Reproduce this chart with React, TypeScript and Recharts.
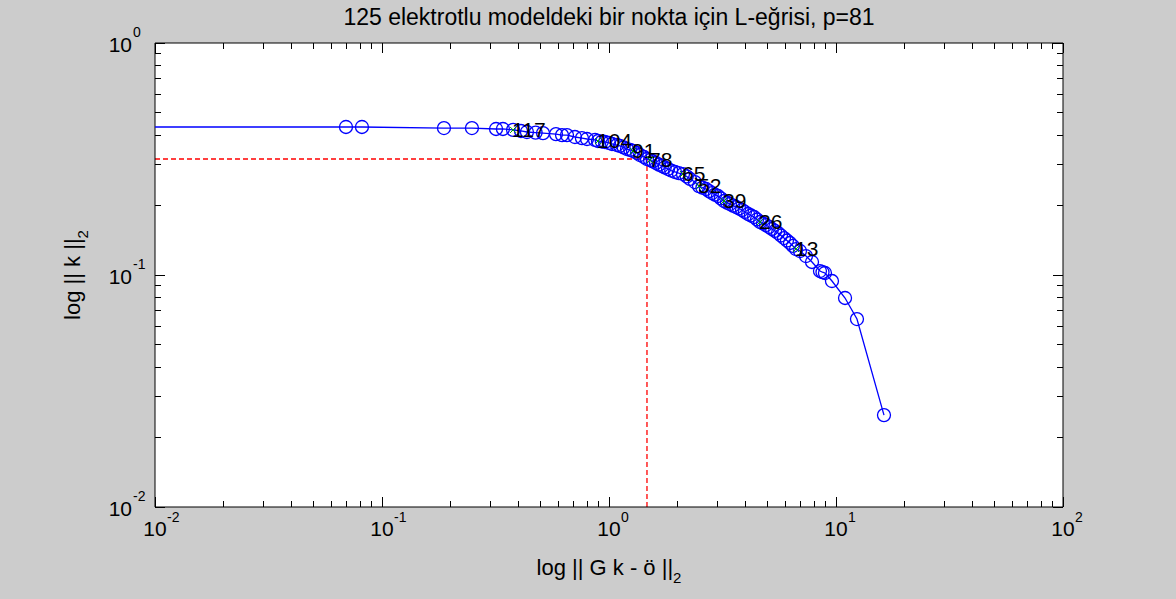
import { ReferenceLine, Scatter, ScatterChart, XAxis, YAxis } from "recharts"

// L-curve for the point p=81: residual norm ||G k - ö||_2 vs solution norm ||k||_2,
// ordered from p=125 (left) down to p=1 (bottom right)
const residualNorm = [
  0.003, 0.0694, 0.0816, 0.1875, 0.249, 0.318, 0.341, 0.378, 0.4095, 0.435, 0.475, 0.512, 0.584, 0.621,
  0.653, 0.708, 0.76, 0.8, 0.868, 0.894, 0.93, 0.96, 1.0, 1.031, 1.084, 1.118, 1.16, 1.2, 1.24, 1.276,
  1.328, 1.369, 1.426, 1.47, 1.516, 1.56, 1.611, 1.66, 1.712, 1.76, 1.82, 1.88, 1.953, 2.03, 2.118,
  2.2, 2.275, 2.39, 2.492, 2.58, 2.675, 2.76, 2.843, 2.93, 3.02, 3.11, 3.21, 3.31, 3.41, 3.52, 3.63,
  3.74, 3.855, 3.97, 4.1, 4.22, 4.353, 4.49, 4.625, 4.77, 4.916, 5.07, 5.224, 5.39, 5.553, 5.72, 5.9,
  6.08, 6.27, 6.46, 6.665, 6.94, 7.375, 7.84, 8.5, 8.72, 8.94, 9.6, 10.96, 12.37, 16.27,
]
const solutionNorm = [
  0.4345, 0.4345, 0.4345, 0.43, 0.43, 0.426, 0.426, 0.422, 0.4176, 0.4134, 0.411, 0.409, 0.405, 0.401,
  0.401, 0.3934, 0.389, 0.3857, 0.382, 0.378, 0.376, 0.3744, 0.371, 0.367, 0.3633, 0.36, 0.355, 0.349,
  0.346, 0.3423, 0.3356, 0.329, 0.3225, 0.3162, 0.3131, 0.309, 0.304, 0.299, 0.295, 0.291, 0.2864,
  0.282, 0.278, 0.275, 0.2724, 0.266, 0.2594, 0.2516, 0.2417, 0.238, 0.2348, 0.23, 0.2256, 0.222,
  0.219, 0.214, 0.2084, 0.205, 0.2023, 0.199, 0.1964, 0.1935, 0.1906, 0.187, 0.1832, 0.1805, 0.1778,
  0.1735, 0.1692, 0.1667, 0.1642, 0.161, 0.1579, 0.1548, 0.1517, 0.148, 0.1443, 0.1408, 0.1374,
  0.1334, 0.1294, 0.1269, 0.1207, 0.1138, 0.104, 0.1028, 0.102, 0.0942, 0.0796, 0.0646, 0.0249,
]

// every 13th point is marked and numbered
const markedIndex = ["117", "104", "91", "78", "65", "52", "39", "26", "13"]
const markedResidual = [0.378, 0.894, 1.276, 1.516, 2.118, 2.492, 3.21, 4.625, 6.665]
const markedSolution = [0.422, 0.378, 0.3423, 0.3131, 0.2724, 0.2417, 0.2084, 0.1692, 0.1294]

// chosen corner, p=81
const cornerResidual = 1.47
const cornerSolution = 0.3162

const xDecades = [0.01, 0.1, 1, 10, 100]
const yDecades = [0.01, 0.1, 1]
const minorSteps = [2, 3, 4, 5, 6, 7, 8, 9]

const W = 1176
const H = 599
const PLOT = { left: 155, top: 43, width: 908, height: 464 }
const FONT = '"Liberation Sans", Arial, Helvetica, sans-serif'
const BLUE = "#0000ff"
const RED = "#ff0000"

const withMinors = (decades: number[]) => {
  const out: number[] = []
  decades.forEach((d, i) => {
    out.push(d)
    if (i < decades.length - 1) minorSteps.forEach((m) => out.push(+(d * m).toPrecision(6)))
  })
  return out
}
const xTicks = withMinors(xDecades)
const yTicks = withMinors(yDecades)

const isDecade = (v: number) => Math.abs(Math.log10(v) - Math.round(Math.log10(v))) < 1e-6
const exponent = (v: number) => String(Math.round(Math.log10(v)))

const curve = residualNorm.map((r, i) => ({ r, s: solutionNorm[i] }))
const marked = markedIndex.map((name, i) => ({ r: markedResidual[i], s: markedSolution[i], name }))

// ticks point inward on all four sides of the box
function BottomTick(props: any) {
  const { x, y, payload } = props
  const major = isDecade(payload.value)
  const len = major ? 10 : 6
  const top = y - PLOT.height
  return (
    <g>
      <line x1={x} y1={y} x2={x} y2={y - len} stroke="#000" shapeRendering="crispEdges" />
      <line x1={x} y1={top} x2={x} y2={top + len} stroke="#000" shapeRendering="crispEdges" />
      {major && (
        <g fontFamily={FONT} fill="#000">
          <text x={x} y={y + 29} fontSize={21} textAnchor="middle">10</text>
          <text x={x + 12} y={y + 15} fontSize={14}>{exponent(payload.value)}</text>
        </g>
      )}
    </g>
  )
}

function LeftTick(props: any) {
  const { x, y, payload } = props
  const major = isDecade(payload.value)
  const len = major ? 10 : 6
  const right = x + PLOT.width
  return (
    <g>
      <line x1={x} y1={y} x2={x + len} y2={y} stroke="#000" shapeRendering="crispEdges" />
      <line x1={right} y1={y} x2={right - len} y2={y} stroke="#000" shapeRendering="crispEdges" />
      {major && (
        <g fontFamily={FONT} fill="#000">
          <text x={x - 23} y={y + 9} fontSize={21} textAnchor="end">10</text>
          <text x={x - 22} y={y - 6} fontSize={14}>{exponent(payload.value)}</text>
        </g>
      )}
    </g>
  )
}

const Ring = (p: any) => <circle cx={p.cx} cy={p.cy} r={6.5} fill="none" stroke={BLUE} strokeWidth={1.3} />

function Numbered(p: any) {
  const { cx, cy, payload } = p
  const d = 3
  return (
    <g>
      <path
        d={`M${cx - d},${cy - d}L${cx + d},${cy + d}M${cx - d},${cy + d}L${cx + d},${cy - d}`}
        stroke="#00a000"
        strokeWidth={1}
      />
      <text x={cx - 1} y={cy + 7} fontSize={21} fontFamily={FONT} fill="#000">
        {payload.name}
      </text>
    </g>
  )
}

export default function App() {
  return (
    <div style={{ position: "relative", width: W, height: H, background: "#cccccc", overflow: "hidden" }}>
      <style>{`body{margin:0}`}</style>
      <div
        style={{
          position: "absolute",
          left: PLOT.left,
          top: PLOT.top,
          width: PLOT.width,
          height: PLOT.height,
          background: "#ffffff",
        }}
      />
      <div style={{ position: "absolute", left: 0, top: 0 }}>
        <ScatterChart
          width={W}
          height={H}
          margin={{
            top: PLOT.top,
            right: W - PLOT.left - PLOT.width,
            bottom: H - PLOT.top - PLOT.height - 1,
            left: PLOT.left - 1,
          }}
        >
          <XAxis
            dataKey="r"
            type="number"
            scale="log"
            domain={[0.01, 100]}
            allowDataOverflow
            ticks={xTicks}
            interval={0}
            height={1}
            tickSize={0}
            tickMargin={0}
            tickLine={false}
            axisLine={{ stroke: "#000" }}
            tick={BottomTick}
          />
          <YAxis
            dataKey="s"
            type="number"
            scale="log"
            domain={[0.01, 1]}
            allowDataOverflow
            ticks={yTicks}
            interval={0}
            width={1}
            tickSize={0}
            tickMargin={0}
            tickLine={false}
            axisLine={{ stroke: "#000" }}
            tick={LeftTick}
          />
          <ReferenceLine y={1} stroke="#000" />
          <ReferenceLine x={100} stroke="#000" />
          <ReferenceLine
            segment={[
              { x: 0.01, y: cornerSolution },
              { x: cornerResidual, y: cornerSolution },
            ]}
            stroke={RED}
            strokeWidth={1.3}
            strokeDasharray="5 3"
          />
          <ReferenceLine
            segment={[
              { x: cornerResidual, y: 0.01 },
              { x: cornerResidual, y: cornerSolution },
            ]}
            stroke={RED}
            strokeWidth={1.3}
            strokeDasharray="5 3"
          />
          <Scatter
            data={curve}
            line={{ stroke: BLUE, strokeWidth: 1.3 }}
            shape={Ring}
            isAnimationActive={false}
          />
          <Scatter data={marked} shape={Numbered} isAnimationActive={false} />
        </ScatterChart>
      </div>
      <div
        style={{
          position: "absolute",
          left: PLOT.left,
          width: PLOT.width,
          top: 5,
          textAlign: "center",
          fontFamily: FONT,
          fontSize: 23,
          lineHeight: "24px",
          color: "#000",
          whiteSpace: "nowrap",
        }}
      >
        125 elektrotlu modeldeki bir nokta için L-eğrisi, p=81
      </div>
      <div
        style={{
          position: "absolute",
          left: PLOT.left,
          width: PLOT.width,
          top: 556,
          textAlign: "center",
          fontFamily: FONT,
          fontSize: 22,
          lineHeight: "24px",
          color: "#000",
          whiteSpace: "nowrap",
        }}
      >
        log || G k - ö ||<span style={{ fontSize: 15, position: "relative", top: 8 }}>2</span>
      </div>
      <div
        style={{
          position: "absolute",
          left: 74,
          top: PLOT.top + PLOT.height / 2,
          transform: "translate(-50%, -50%) rotate(-90deg)",
          fontFamily: FONT,
          fontSize: 22,
          lineHeight: "24px",
          color: "#000",
          whiteSpace: "nowrap",
        }}
      >
        log || k ||<span style={{ fontSize: 15, position: "relative", top: 8 }}>2</span>
      </div>
    </div>
  )
}
